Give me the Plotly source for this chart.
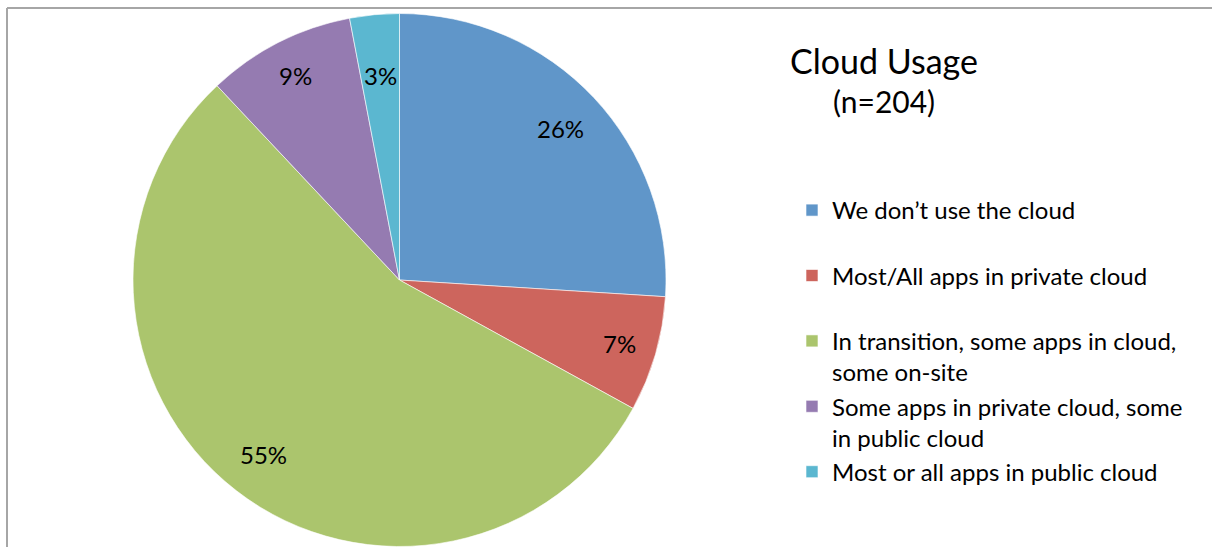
import numpy as np
import plotly.graph_objects as go

# Survey results: cloud usage (n=204)
categories = [
    "We don’t use the cloud",
    "Most/All apps in private cloud",
    "In transition, some apps in cloud,<br>some on-site",
    "Some apps in private cloud, some<br>in public cloud",
    "Most or all apps in public cloud",
]
shares = [26, 7, 55, 9, 3]
colors = ["#6096C9", "#CD655D", "#ABC56D", "#957BB1", "#5BB7D0"]

W, H = 1212, 547
# pie placement in pixels
cx, cy, r = 399.5, 280.0, 266.5
label_frac = [0.83, 0.86, 0.83, 0.86, 0.77]

def px(x):
    return x / W

def py(y):
    return 1 - y / H

# pad single-line legend entries so all items take two lines
legend_names = [c if "<br>" in c else c + "<br>\u00a0" for c in categories]

fig = go.Figure()
fig.add_trace(go.Pie(
    labels=legend_names,
    values=shares,
    marker=dict(colors=colors, line=dict(color="white", width=0.6)),
    sort=False,
    direction="clockwise",
    rotation=0,
    textinfo="none",
    hoverinfo="label+percent",
    domain=dict(x=[px(cx - r), px(cx + r)], y=[py(cy + r), py(cy - r)]),
))

# percentage labels placed at each slice's mid-angle
vals = np.array(shares, dtype=float)
cum = np.cumsum(vals) - vals / 2
mid = cum / vals.sum() * 2 * np.pi
annotations = []
for v, a, f in zip(shares, mid, label_frac):
    x = cx + f * r * np.sin(a)
    y = cy - f * r * np.cos(a)
    annotations.append(dict(
        x=px(x), y=py(y), xref="paper", yref="paper",
        text=f"{v}%", showarrow=False,
        xanchor="center", yanchor="middle",
        font=dict(size=24, color="#000000"),
    ))

annotations.append(dict(
    x=px(884), y=py(61), xref="paper", yref="paper",
    text="Cloud Usage", showarrow=False, xanchor="center", yanchor="middle",
    font=dict(size=34, color="#000000"),
))
annotations.append(dict(
    x=px(884), y=py(101), xref="paper", yref="paper",
    text="(n=204)", showarrow=False, xanchor="center", yanchor="middle",
    font=dict(size=30, color="#000000"),
))

shapes = [
    dict(type="line", xref="paper", yref="paper",
         x0=px(7), x1=px(W + 5), y0=py(8), y1=py(8),
         line=dict(color="#A6A6A6", width=2)),
    dict(type="line", xref="paper", yref="paper",
         x0=px(7), x1=px(7), y0=py(8), y1=py(H + 5),
         line=dict(color="#A6A6A6", width=2)),
]

fig.update_layout(
    width=W, height=H,
    margin=dict(l=0, r=0, t=0, b=0),
    paper_bgcolor="white",
    plot_bgcolor="white",
    font=dict(family="Lato, 'Open Sans', sans-serif", color="#000000"),
    showlegend=True,
    legend=dict(
        x=px(792), y=py(188), xanchor="left", yanchor="top",
        font=dict(size=24, color="#000000"),
        valign="top", traceorder="normal",
        bgcolor="rgba(0,0,0,0)",
    ),
    annotations=annotations,
    shapes=shapes,
)

fig.write_html("out.html")
